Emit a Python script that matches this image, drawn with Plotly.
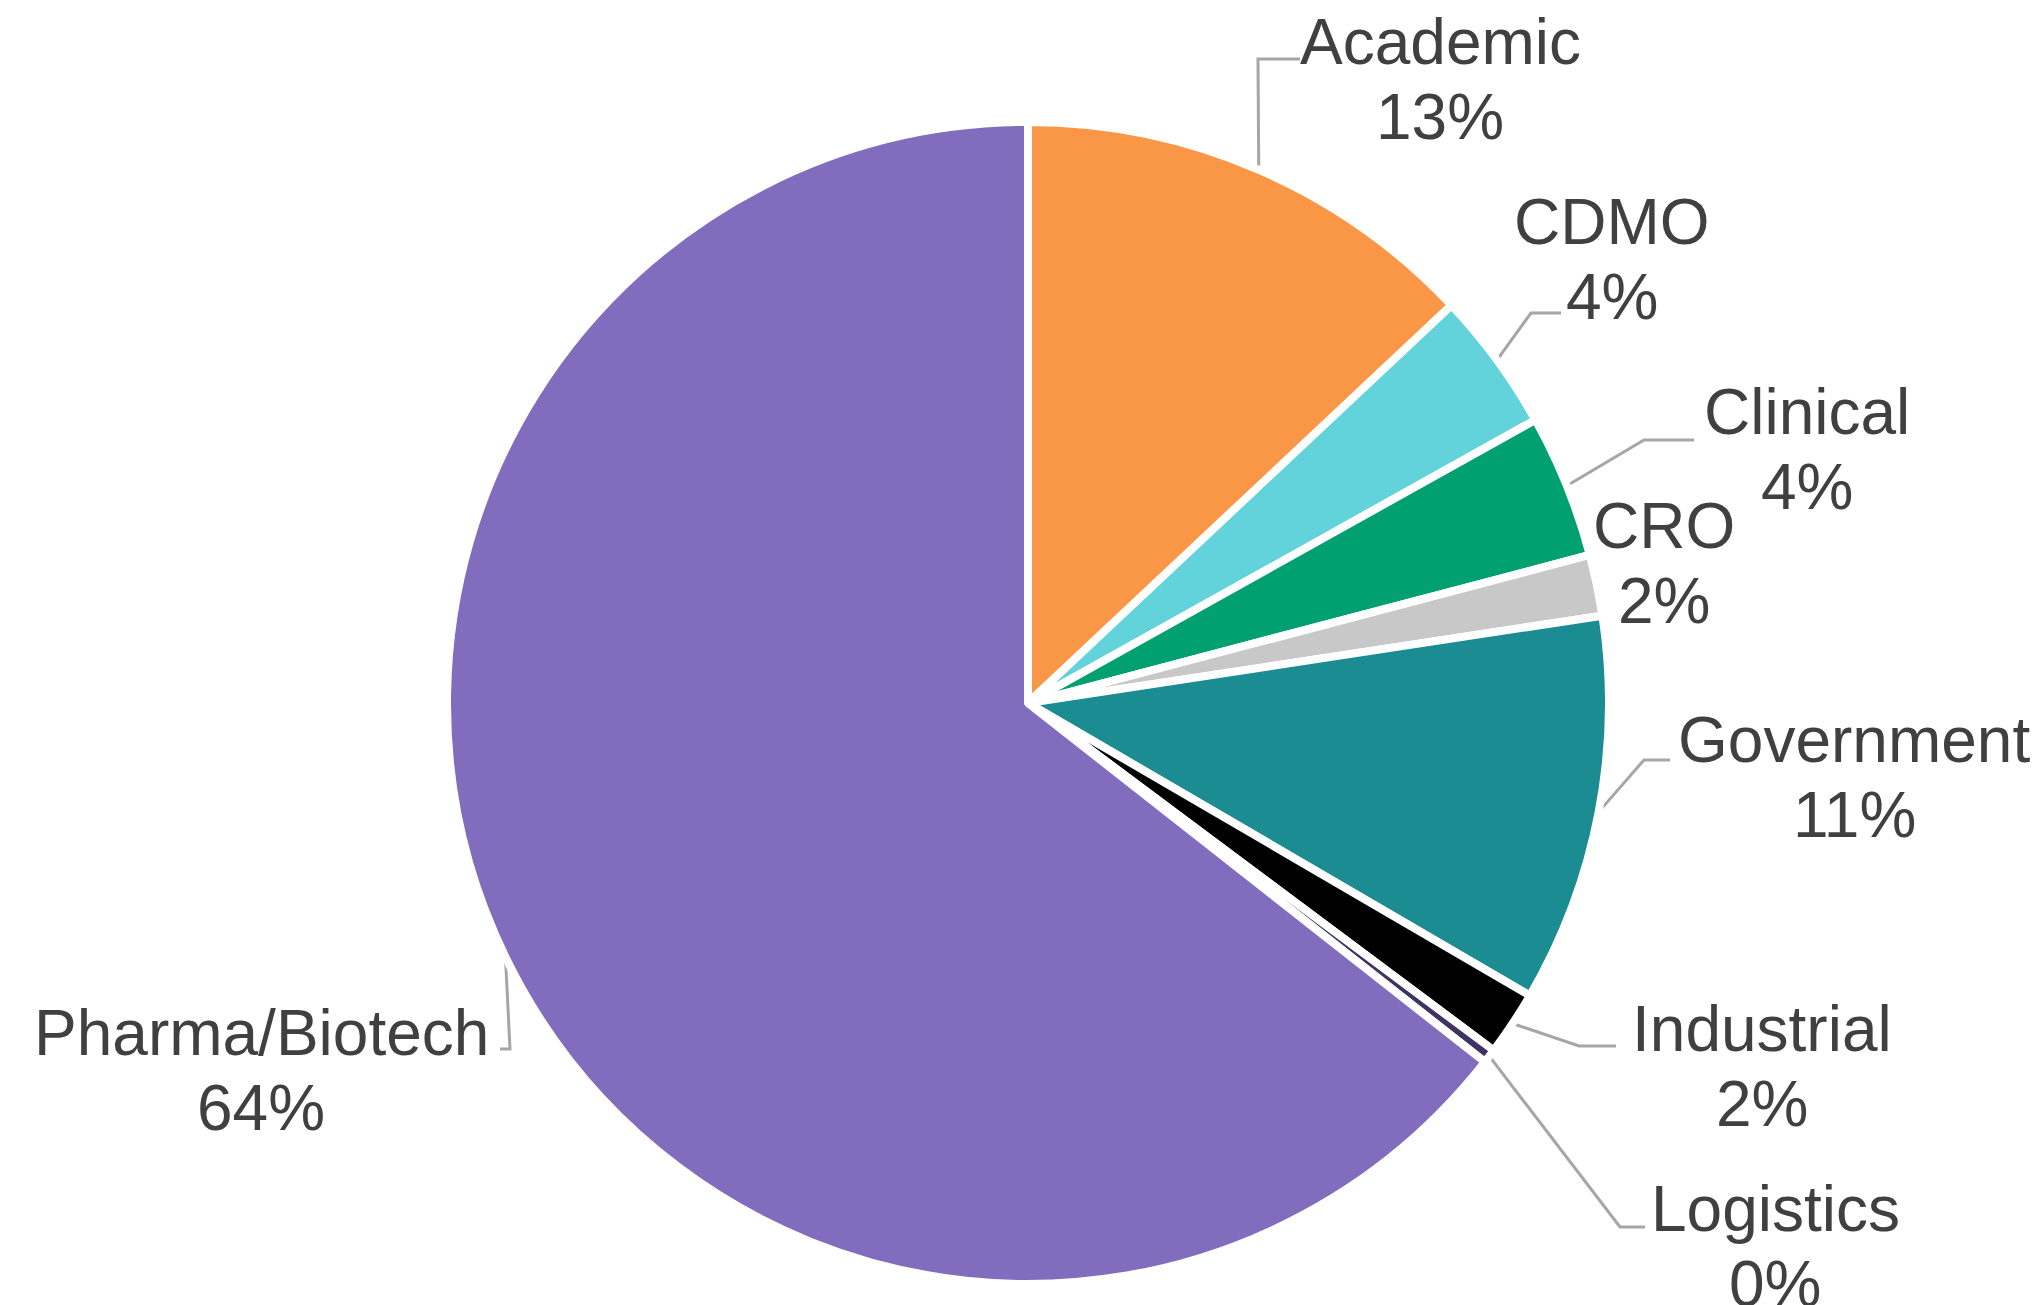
import math
import plotly.graph_objects as go

# ---- data ----
categories = ["Academic", "CDMO", "Clinical", "CRO", "Government",
              "Industrial", "Logistics", "Pharma/Biotech"]
shares = [13.0, 3.9, 4.0, 1.7, 10.8, 1.8, 0.4, 64.4]

# ---- styles / layout ----
colors = ["#F99746", "#62D2DB", "#00A070", "#C8C8C8", "#1A8C92",
          "#000000", "#3E3363", "#826CBE"]
W, H = 2043, 1305
CX, CY, R = 1028, 703, 581
# label centre (x, y of first line) in pixel space
label_pos = [(1440, 42), (1612, 222), (1807, 412), (1664, 526), (1854, 740),
             (1762, 1029), (1775, 1209), (261, 1033)]
# leader elbow and end points (None = no leader)
leader_pts = [((1258, 59), (1300, 59)), ((1531, 313), (1561, 313)),
              ((1644, 440), (1694, 440)), None, ((1644, 760), (1670, 760)),
              ((1579, 1046), (1616, 1046)), ((1620, 1227), (1645, 1227)),
              ((510, 1049), (500, 1049))]
LINE_GAP = 75
FONT = "Liberation Sans, Arial, sans-serif"
TXT = "#404040"

fig = go.Figure()
fig.add_trace(go.Pie(
    labels=categories, values=shares, sort=False, direction="clockwise",
    rotation=0, textinfo="none", hoverinfo="label+percent",
    marker=dict(colors=colors, line=dict(color="white", width=8)),
    domain=dict(x=[(CX - R) / W, (CX + R) / W],
                y=[(H - CY - R) / H, (H - CY + R) / H]),
    showlegend=False,
))

total = sum(shares)
cum = 0.0
annotations = []
for i, (cat, v) in enumerate(zip(categories, shares)):
    mid = (cum + v / 2) / total * 2 * math.pi
    cum += v
    ax = CX + R * math.sin(mid)
    ay = CY - R * math.cos(mid)
    lp = leader_pts[i]
    if lp is not None:
        (ex, ey), (fx, fy) = lp
        fig.add_trace(go.Scatter(
            x=[ax, ex, fx], y=[ay, ey, fy], mode="lines",
            line=dict(color="#A6A6A6", width=3), hoverinfo="skip",
            showlegend=False, xaxis="x", yaxis="y"))
    lx, ly = label_pos[i]
    pct = f"{round(v / total * 100)}%"
    for txt, yy in ((cat, ly), (pct, ly + LINE_GAP)):
        annotations.append(dict(
            x=lx, y=yy, xref="x", yref="y", text=txt, showarrow=False,
            xanchor="center", yanchor="middle",
            font=dict(family=FONT, size=64, color=TXT)))

fig.update_layout(
    width=W, height=H, margin=dict(l=0, r=0, t=0, b=0),
    paper_bgcolor="white", plot_bgcolor="rgba(0,0,0,0)",
    xaxis=dict(range=[0, W], visible=False, fixedrange=True, domain=[0, 1]),
    yaxis=dict(range=[H, 0], visible=False, fixedrange=True, domain=[0, 1]),
    annotations=annotations,
)

fig.write_html("out.html",
               config={"displayModeBar": False},
               post_script="document.body.style.margin='0';"
                           "document.body.style.overflow='hidden';")
